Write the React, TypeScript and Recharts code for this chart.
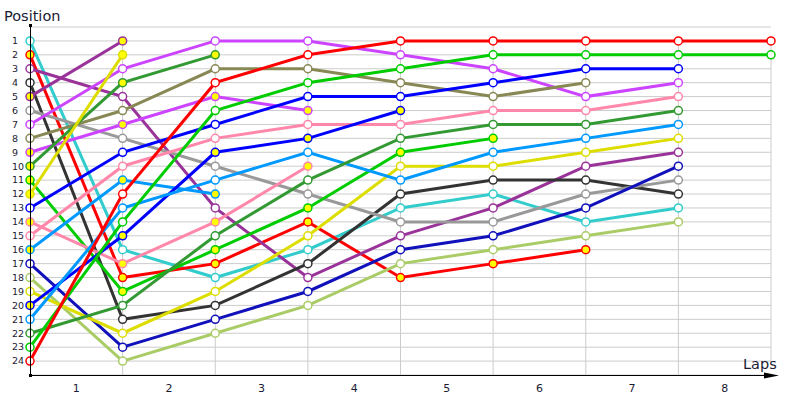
import React from 'react';
import { LineChart, Line, XAxis, YAxis, CartesianGrid, ReferenceLine } from 'recharts';

// Laps (0 = grid / start) and labels
const lapNumbers = [0, 1, 2, 3, 4, 5, 6, 7, 8];
const lapTickLabels = ['1', '2', '3', '4', '5', '6', '7', '8'];
const positionTicks = [1, 2, 3, 4, 5, 6, 7, 8, 9, 10, 11, 12, 13, 14, 15, 16, 17, 18, 19, 20, 21, 22, 23, 24];
const gridLaps = [1, 2, 3, 4, 5, 6, 7];

// Positions per driver, starting at the grid (lap 0)
const cyanA = [1, 16, 18, 16, 13, 12, 14, 13];
const redB = [2, 18, 17, 14, 18, 17, 16];
const purpleA = [3, 5, 13, 18, 15, 13, 10, 9];
const darkGrey = [4, 21, 20, 17, 12, 11, 11, 12];
const purpleB = [5, 1];
const grey = [6, 8, 10, 12, 14, 14, 12, 11];
const violetA = [7, 3, 1, 1, 2, 3, 5, 4];
const olive = [8, 6, 3, 3, 4, 5, 4];
const violetB = [9, 7, 5, 6];
const forestB = [10, 4, 2];
const greenB = [11, 19, 16, 13, 9, 8];
const yellowB = [12, 2];
const blueA = [13, 9, 7, 5, 5, 4, 3, 3];
const pinkB = [14, 17, 14, 10];
const pinkA = [15, 10, 8, 7, 7, 6, 6, 5];
const skyB = [16, 11, 12];
const navy = [17, 23, 21, 19, 16, 15, 13, 10];
const lime = [18, 24, 22, 20, 17, 16, 15, 14];
const yellowA = [19, 22, 19, 15, 10, 10, 9, 8];
const blueB = [20, 15, 9, 8, 6];
const skyA = [21, 13, 11, 9, 11, 9, 8, 7];
const forestA = [22, 20, 15, 11, 8, 7, 7, 6];
const greenA = [23, 14, 6, 4, 3, 2, 2, 2, 2];
const redA = [24, 12, 4, 2, 1, 1, 1, 1, 1];

const WHITE = '#ffffff';
const YEL = '#ffff00';

const drivers = [
  { key: 'cyanA', values: cyanA, color: '#33cccc', fill: WHITE },
  { key: 'redB', values: redB, color: '#ff0000', fill: YEL },
  { key: 'purpleA', values: purpleA, color: '#993399', fill: WHITE },
  { key: 'darkGrey', values: darkGrey, color: '#333333', fill: WHITE },
  { key: 'purpleB', values: purpleB, color: '#993399', fill: YEL },
  { key: 'grey', values: grey, color: '#999999', fill: WHITE },
  { key: 'violetA', values: violetA, color: '#cc44ff', fill: WHITE },
  { key: 'olive', values: olive, color: '#888855', fill: WHITE },
  { key: 'violetB', values: violetB, color: '#cc44ff', fill: YEL },
  { key: 'forestB', values: forestB, color: '#339933', fill: YEL },
  { key: 'greenB', values: greenB, color: '#00cc00', fill: YEL },
  { key: 'yellowB', values: yellowB, color: '#dddd00', fill: YEL },
  { key: 'blueA', values: blueA, color: '#0000ff', fill: WHITE },
  { key: 'pinkB', values: pinkB, color: '#ff88aa', fill: YEL },
  { key: 'pinkA', values: pinkA, color: '#ff88aa', fill: WHITE },
  { key: 'skyB', values: skyB, color: '#0099ff', fill: YEL },
  { key: 'navy', values: navy, color: '#1111bb', fill: WHITE },
  { key: 'lime', values: lime, color: '#aacc66', fill: WHITE },
  { key: 'yellowA', values: yellowA, color: '#dddd00', fill: WHITE },
  { key: 'blueB', values: blueB, color: '#0000ff', fill: YEL },
  { key: 'skyA', values: skyA, color: '#0099ff', fill: WHITE },
  { key: 'forestA', values: forestA, color: '#339933', fill: WHITE },
  { key: 'greenA', values: greenA, color: '#00cc00', fill: WHITE },
  { key: 'redA', values: redA, color: '#ff0000', fill: WHITE },
];

const tableData = lapNumbers.map((lap, i) => {
  const row: Record<string, number | null> = { lap };
  drivers.forEach((d) => {
    row[d.key] = i < d.values.length ? d.values[i] : null;
  });
  return row;
});

const FONT = '"DejaVu Sans", Verdana, sans-serif';

const LeftTick = (props: any) => {
  const { x, y, payload } = props;
  return (
    <text x={x - 18} y={y} dy="0.35em" textAnchor="start" fontSize={9.5} fontFamily={FONT} fill="#1a1a33">
      {payload.value}
    </text>
  );
};

export default function App() {
  return (
    <div style={{ position: 'absolute', left: 0, top: 0, width: 800, height: 400, background: '#fff' }}>
      <LineChart
        width={800}
        height={400}
        data={tableData}
        margin={{ top: 27, right: 0, bottom: 0, left: 0 }}
      >
        <CartesianGrid yAxisId="left" vertical={false} stroke="#cccccc" strokeDasharray="" />
        {gridLaps.map((l) => (
          <ReferenceLine
            key={l}
            yAxisId="left"
            segment={[{ x: l, y: 1 }, { x: l, y: 25 }]}
            stroke="#cccccc"
            strokeWidth={1}
            ifOverflow="visible"
          />
        ))}
        <ReferenceLine
          yAxisId="left"
          segment={[{ x: 8, y: 1 }, { x: 8, y: 24 }]}
          stroke="#cccccc"
          strokeWidth={1}
          ifOverflow="visible"
        />
        <XAxis
          dataKey="lap"
          type="number"
          domain={[0, 8]}
          ticks={lapTickLabels.map((_, i) => i + 0.5)}
          tickFormatter={(v: number) => lapTickLabels[Math.round(v - 0.5)]}
          height={25}
          axisLine={false}
          tickLine={false}
          tickSize={0}
          tickMargin={9}
          interval={0}
          tick={{ fontSize: 11, fontFamily: FONT, fill: '#1a1a33' }}
        />
        <YAxis
          yAxisId="left"
          type="number"
          domain={[0, 25]}
          reversed
          ticks={positionTicks}
          interval={0}
          width={30}
          axisLine={false}
          tickLine={false}
          tickSize={0}
          tickMargin={0}
          tick={<LeftTick />}
        />
        <YAxis
          yAxisId="right"
          orientation="right"
          type="number"
          domain={[0, 25]}
          reversed
          ticks={positionTicks}
          interval={0}
          width={29}
          axisLine={false}
          tickLine={false}
          tickSize={0}
          tickMargin={6}
          tick={{ fontSize: 9.5, fontFamily: FONT, fill: '#1a1a33', textAnchor: 'start' }}
        />
        {drivers.map((d) => (
          <Line
            key={d.key}
            yAxisId="left"
            type="linear"
            dataKey={d.key}
            stroke={d.color}
            strokeWidth={3}
            dot={{ r: 4, fill: d.fill, stroke: d.color, strokeWidth: 1.5 }}
            activeDot={false}
            isAnimationActive={false}
            connectNulls={false}
          />
        ))}
      </LineChart>
      <svg
        width={800}
        height={400}
        style={{ position: 'absolute', left: 0, top: 0, pointerEvents: 'none' }}
      >
        <line x1={30.5} y1={25} x2={30.5} y2={375} stroke="#000" strokeWidth={1} />
        <line x1={30} y1={375.5} x2={772} y2={375.5} stroke="#000" strokeWidth={1} />
        <polygon points="764,372.5 779,375.5 764,378.5" fill="#000" />
        <rect x={29} y={24} width={3} height={3} fill="#000" />
        <rect x={29} y={374} width={3} height={3} fill="#000" />
        <text x={4} y={21} fontSize={14.5} fontFamily={FONT} fill="#1a1a33">Position</text>
        <text x={743} y={369} fontSize={14.5} fontFamily={FONT} fill="#1a1a33">Laps</text>
      </svg>
    </div>
  );
}
